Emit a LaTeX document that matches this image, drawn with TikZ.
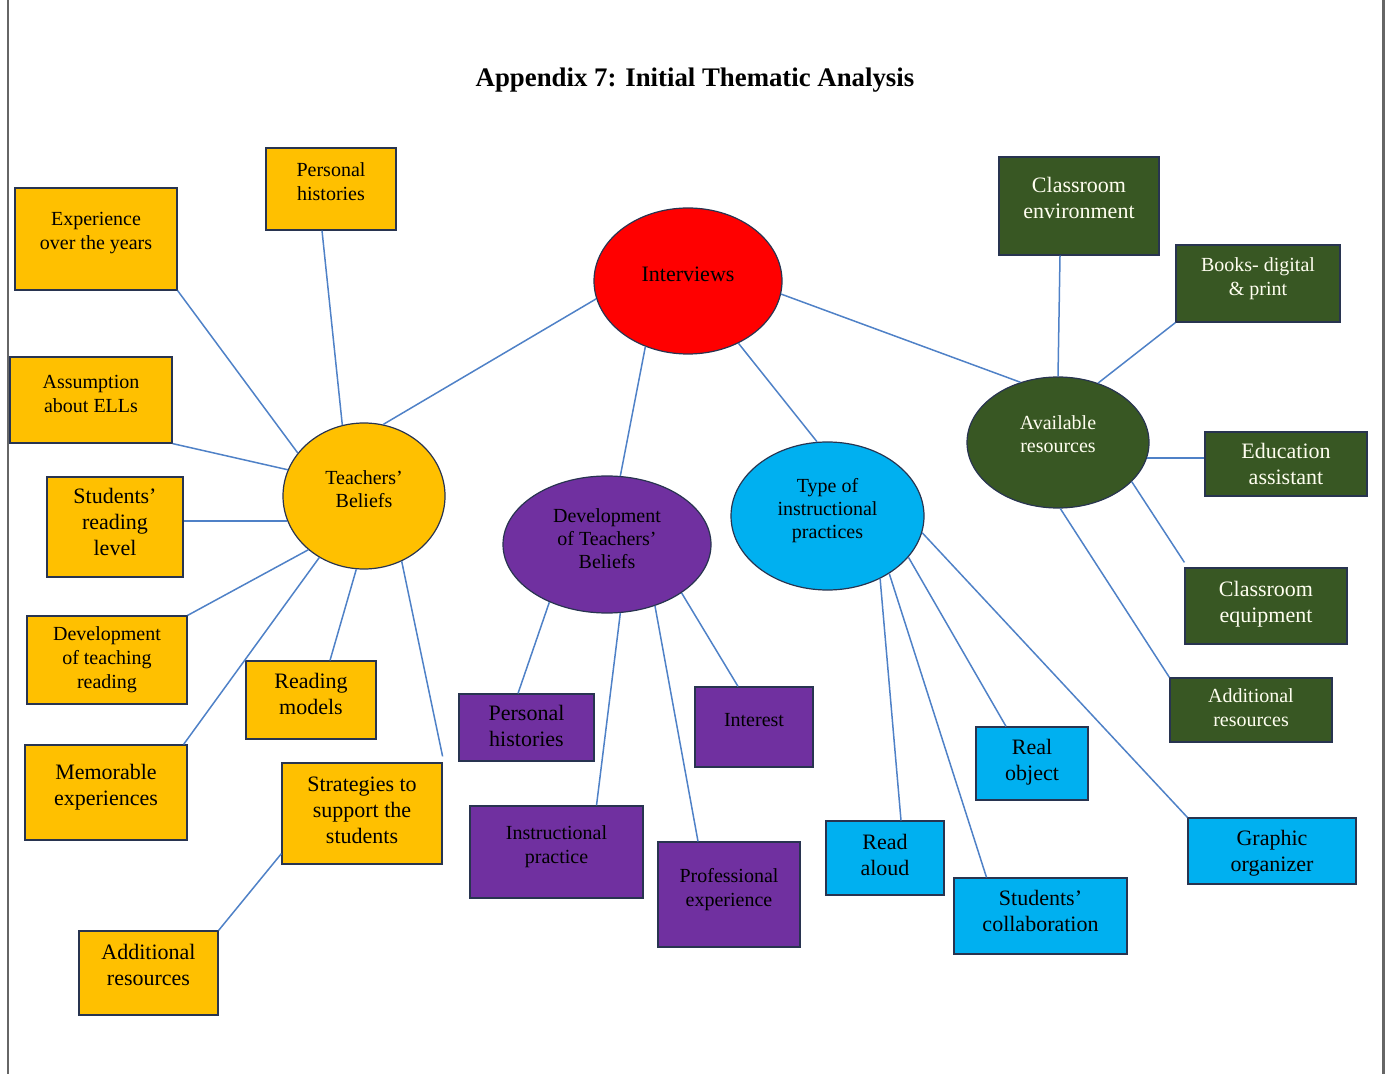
\documentclass[tikz,border=0pt]{standalone}
\usepackage{fontspec}
\setmainfont{Liberation Serif}
\usepackage{xcolor}
\usepackage{tikz}
\usetikzlibrary{shapes.geometric, positioning}
\definecolor{yel}{RGB}{255,192,0}
\definecolor{purp}{RGB}{112,48,160}
\definecolor{sky}{RGB}{0,176,240}
\definecolor{moss}{RGB}{56,87,35}
\definecolor{edge}{RGB}{40,52,80}
\definecolor{linkc}{RGB}{79,129,199}
\tikzset{
  box/.style={rectangle, draw=edge, line width=0.6pt, inner sep=0pt,
              align=center, font=\fontsize{10}{12}\selectfont},
  topic/.style={ellipse, draw=edge, line width=0.6pt, inner sep=0pt,
                align=center, font=\fontsize{10}{11.5}\selectfont},
  big/.style={font=\fontsize{11}{13}\selectfont},
  sz/.style 2 args={minimum width=#1*0.5pt, minimum height=#2*0.5pt},
  lift/.style={text depth=#1pt},
  ybox/.style={box, fill=yel},
  pbox/.style={box, fill=purp},
  bbox/.style={box, fill=sky},
  gbox/.style={box, fill=moss, text=white!94!yellow},
  link/.style={draw=linkc, line width=0.75pt},
}

\begin{document}
\begin{tikzpicture}[x=0.5pt, y=-0.5pt]
  \useasboundingbox (0,0) rectangle (1390,1074);
  \draw[gray!80!black, line width=1pt] (8,0) -- (8,1074);
  \draw[gray!80!black, line width=1.5pt] (1383,0) -- (1383,1074);

  \node[font=\fontsize{13.4}{15}\selectfont\bfseries] (title) at (695,80)
    {Appendix 7: Initial Thematic Analysis};

  %% === Themes ===
  \node[topic, fill=red, sz={188}{146}, lift=7, big]   (int) at (688,281)   {Interviews};
  \node[topic, fill=yel, sz={162}{146}, lift=7]        (tb)  at (364,496)   {Teachers'\\Beliefs};
  \node[topic, fill=purp, sz={208}{137}, lift=5.5]     (dtb) at (607,544.5) {Development\\of Teachers'\\Beliefs};
  \node[topic, fill=sky, sz={193}{148}, lift=8]        (tip) at (827.5,516) {Type of\\instructional\\practices};
  \node[topic, fill=moss, text=white!94!yellow, sz={182}{131}, lift=8.5]
                                                       (avr) at (1058,442.5){Available\\resources};

  %% === Teachers' Beliefs codes ===
  \node[ybox, sz={130}{82}, lift=7.5]       (tphist)  at (331,189)     {Personal\\histories};
  \node[ybox, sz={162}{102}, lift=8]        (texp)    at (96,239)      {Experience\\over the years};
  \node[ybox, sz={162}{86}, lift=6.5]       (tassum)  at (91,400)      {Assumption\\about ELLs};
  \node[ybox, big, sz={136}{100}, lift=5]   (tlevel)  at (115,527)     {Students'\\reading\\level};
  \node[ybox, sz={160}{88}, lift=2.5]       (tdevel)  at (107,660)     {Development\\of teaching\\reading};
  \node[ybox, big, sz={130}{78}, lift=6]    (tmodels) at (311,700)     {Reading\\models};
  \node[ybox, big, sz={162}{95}, lift=8]    (tmemo)   at (106,792.5)   {Memorable\\experiences};
  \node[ybox, big, sz={160}{101}, lift=3.5] (tstrat)  at (362,813.5)   {Strategies to\\support the\\students};
  \node[ybox, big, sz={139}{84}, lift=8]    (tres)    at (148.5,973)   {Additional\\resources};

  %% === Development codes ===
  \node[pbox, big, sz={135}{67}, lift=1.5]  (dphist)  at (526.5,727.5) {Personal\\histories};
  \node[pbox, sz={118}{80}, lift=7]         (dinter)  at (754,727)     {Interest};
  \node[pbox, sz={173}{92}, lift=7.5]       (dinstr)  at (556.5,852)   {Instructional\\practice};
  \node[pbox, sz={142}{105}, lift=7]        (dprof)   at (729,894.5)   {Professional\\experience};

  %% === Instructional practice codes ===
  \node[bbox, big, sz={112}{73}, lift=3.5]  (pobj)    at (1032,763.5)  {Real\\object};
  \node[bbox, big, sz={118}{74}, lift=3.5]  (pread)   at (885,858)     {Read\\aloud};
  \node[bbox, big, sz={173}{76}, lift=5]    (pcollab) at (1040.5,916)  {Students'\\collaboration};
  \node[bbox, big, sz={168}{66}, lift=0]    (pgraph)  at (1272,851)    {Graphic\\organizer};

  %% === Resources codes ===
  \node[gbox, big, sz={160}{98}, lift=8]    (renv)    at (1079,206)    {Classroom\\environment};
  \node[gbox, sz={164}{77}, lift=7]         (rbooks)  at (1258,283.5)  {Books- digital\\\& print};
  \node[gbox, big, sz={162}{64}, lift=0]    (rassist) at (1286,464)    {Education\\assistant};
  \node[gbox, big, sz={162}{76}, lift=4]    (requip)  at (1266,606)    {Classroom\\equipment};
  \node[gbox, sz={162}{64}, lift=2.5]       (radd)    at (1251,710)    {Additional\\resources};

  %% === Interviews to themes ===
  \draw[link] (int.191) -- (tb.75);
  \draw[link] (int.237) -- (dtb.79);
  \draw[link] (int.309) -- (tip.98);
  \draw[link] (int.352) -- (avr.122);

  %% Teachers' Beliefs
  \draw[link] ([xshift=-4.5pt]tphist.south) -- (tb.107);
  \draw[link] (texp.south east) -- (tb.147);
  \draw[link] (tassum.south east) -- (tb.161);
  \draw[link] (tb.198) -- (tb.198 -| tlevel.east);
  \draw[link] (tdevel.north east) -- (tb.224);
  \draw[link] ([xshift=-2pt]tmemo.north east) -- (tb.234);
  \draw[link] ([xshift=9.5pt]tmodels.north) -- (tb.264);
  \draw[link] ([yshift=3pt]tstrat.north east) -- (tb.300);
  \draw[link] ([yshift=5.5pt]tstrat.south west) -- (tres.north east);

  %% Development
  \draw[link] ([xshift=-4.25pt]dphist.north) -- (dtb.225);
  \draw[link] ([xshift=20pt]dinstr.north) -- (dtb.281);
  \draw[link] ([xshift=-15.5pt]dprof.north) -- (dtb.308);
  \draw[link] ([xshift=-8pt]dinter.north) -- (dtb.327);

  %% Type of instructional practices
  \draw[link] ([xshift=8pt]pread.north) -- (tip.310);
  \draw[link] ([xshift=-27pt]pcollab.north) -- (tip.317);
  \draw[link] ([xshift=-13pt]pobj.north) -- (tip.333);
  \draw[link] (pgraph.north west) -- (tip.350);

  %% Available resources
  \draw[link] ([xshift=-9.5pt]renv.south) -- (avr.90);
  \draw[link] (rbooks.south west) -- (avr.56);
  \draw[link] (avr.350) -- (avr.350 -| rassist.west);
  \draw[link] ([yshift=2.5pt]requip.north west) -- (avr.332);
  \draw[link] (radd.north west) -- (avr.272);
\end{tikzpicture}
\end{document}
